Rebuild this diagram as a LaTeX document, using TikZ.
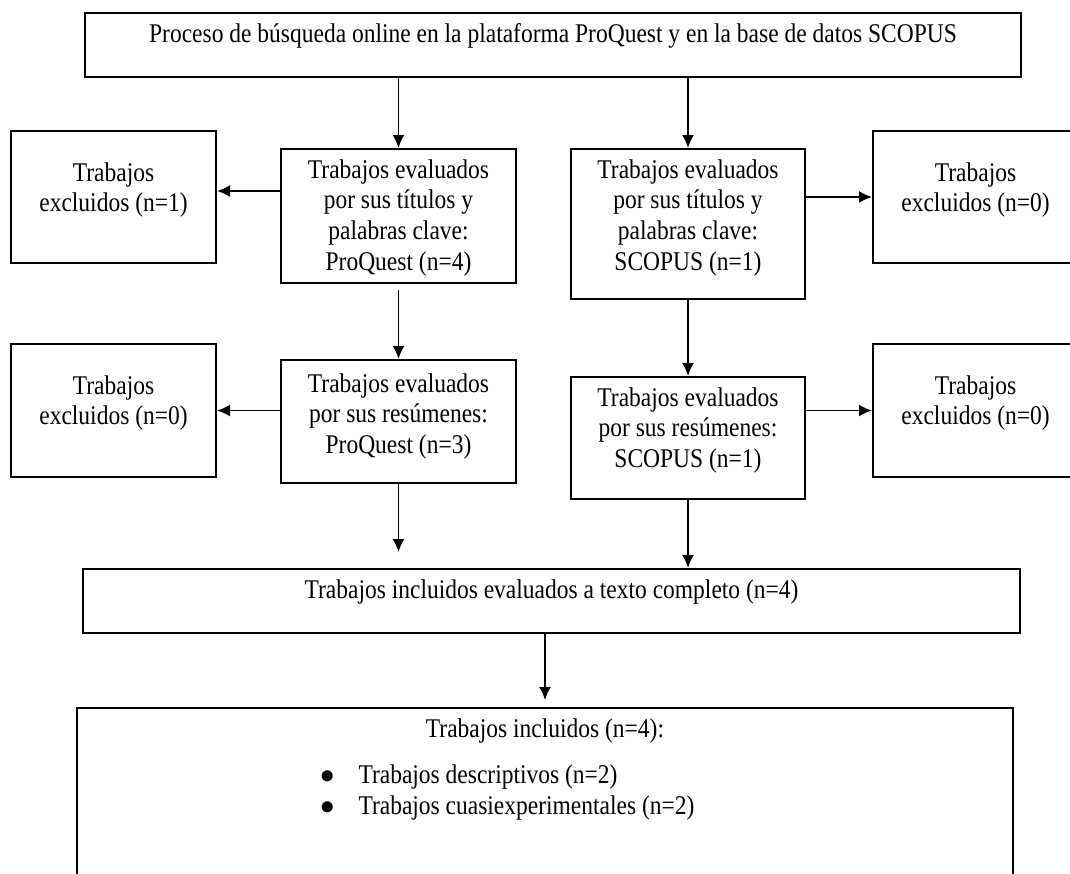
\documentclass[tikz,border=0pt]{standalone}
\usepackage{fontspec}
\setmainfont{Liberation Serif}[FakeStretch=0.87]
\usetikzlibrary{arrows.meta}
\tikzset{%
	flowbox/.style n args = {3}{draw, line width=1pt, inner sep=0pt, anchor=north,
		execute at begin node={\begin{minipage}[t][#2][t]{#1}\centering\rule{0pt}{#3}},
		execute at end node={\end{minipage}}}, % box, text from the top
	exclbox/.style 2 args = {flowbox={#1}{#2}{25pt}}, % excluded works
	arrow/.style    = {line width=0.9pt, -{Latex[length=6.5pt,width=6pt]}},
}

\begin{document}
\begin{tikzpicture}[x=1pt,y=-1pt,font=\fontsize{13.5pt}{15.35pt}\selectfont]
	\useasboundingbox (0,0) rectangle (535,436.5);
	\clip (0,0) rectangle (535,436.5);

	\node [flowbox={468pt}{32pt}{14.5pt}] (search) at (276.5,6) {Proceso de búsqueda online en la plataforma ProQuest y en la base de datos SCOPUS};
	\node [exclbox={102.5pt}{66pt}] (exclPQ1) at (56.75,65) {Trabajos\\excluidos (n=1)};
	\node [flowbox={117.5pt}{67pt}{14.5pt}] (titlesPQ) at (199.25,74) {Trabajos evaluados\\por sus títulos y\\palabras clave:\\ProQuest (n=4)};
	\node [flowbox={117.25pt}{75pt}{14.5pt}] (titlesSC) at (344,74) {Trabajos evaluados\\por sus títulos y\\palabras clave:\\SCOPUS (n=1)};
	\node [exclbox={102.5pt}{66pt}] (exclSC1) at (487.75,65) {Trabajos\\excluidos (n=0)};
	\node [exclbox={102.5pt}{66.5pt}] (exclPQ2) at (56.75,171.5) {Trabajos\\excluidos (n=0)};
	\node [flowbox={117.5pt}{61.5pt}{16pt}] (abstrPQ) at (199.25,179.5) {Trabajos evaluados\\por sus resúmenes:\\ProQuest (n=3)};
	\node [flowbox={117.25pt}{61pt}{14.5pt}] (abstrSC) at (344,188) {Trabajos evaluados\\por sus resúmenes:\\SCOPUS (n=1)};
	\node [exclbox={102.5pt}{66.5pt}] (exclSC2) at (487.75,171.5) {Trabajos\\excluidos (n=0)};
	\node [flowbox={468.5pt}{32pt}{14.5pt}] (fulltext) at (275.75,284) {Trabajos incluidos evaluados a texto completo (n=4)};
	\node [flowbox={468pt}{100pt}{14.5pt}] (included) at (272.5,353.5) {Trabajos incluidos (n=4):\par\vspace{8pt}\raggedright
		\hspace*{121.5pt}\makebox[19.25pt][l]{$\bullet$}Trabajos descriptivos (n=2)\par
		\hspace*{121.5pt}\makebox[19.25pt][l]{$\bullet$}Trabajos cuasiexperimentales (n=2)\par};

	\draw [arrow] (search.south -| titlesPQ.north) -- (titlesPQ.north);
	\draw [arrow] (search.south -| titlesSC.north) -- (titlesSC.north);
	\draw [arrow] ([yshift=3pt]exclPQ1.east -| titlesPQ.west) -- ([yshift=3pt]exclPQ1.east);
	\draw [arrow] (titlesSC.east |- exclSC1.west) -- (exclSC1.west);
	\draw [arrow, shorten <=3pt] (titlesPQ.south) -- (abstrPQ.north);
	\draw [arrow] (titlesSC.south) -- (abstrSC.north);
	\draw [arrow] (abstrPQ.west |- exclPQ2.east) -- (exclPQ2.east);
	\draw [arrow] (abstrSC.east |- exclSC2.west) -- (exclSC2.west);
	\draw [arrow, shorten >=8pt] (abstrPQ.south) -- (abstrPQ.south |- fulltext.north);
	\draw [arrow] (abstrSC.south) -- (abstrSC.south |- fulltext.north);
	\draw [arrow, shorten >=3.5pt] (fulltext.south -| included.north) -- (included.north);
\end{tikzpicture}
\end{document}
